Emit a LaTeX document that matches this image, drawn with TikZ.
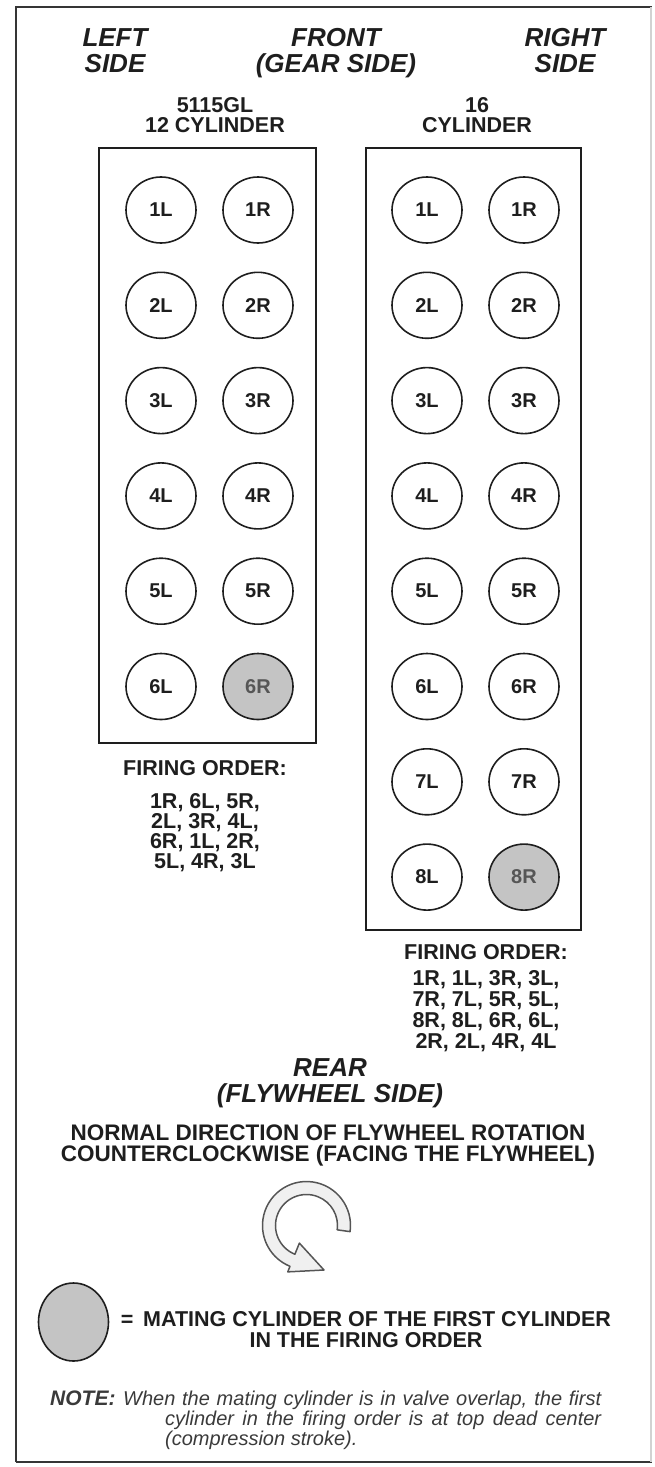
\documentclass[tikz,border=0pt]{standalone}
\usepackage{fontspec}
\setmainfont{Liberation Sans}
\usetikzlibrary{shapes.geometric,calc}
\definecolor{ink}{HTML}{1E1E1E}
\definecolor{mategray}{HTML}{C4C4C4}
\definecolor{notegray}{HTML}{3A3A3A}
\definecolor{arrowline}{HTML}{555555}
\definecolor{arrowfill}{HTML}{F0F0F0}
\tikzset{
  title/.style={font=\fontsize{26}{26}\selectfont\bfseries\itshape, anchor=base, inner sep=0pt, text=ink},
  body/.style={font=\fontsize{21.5}{20}\selectfont\bfseries, anchor=base, inner sep=0pt, text=ink},
  bodybig/.style={body, font=\fontsize{22.5}{20}\selectfont\bfseries},
  cyl/.style={ellipse, draw=ink, line width=1.6pt, minimum width=70pt, minimum height=66pt, inner sep=0pt, font=\fontsize{20}{20}\selectfont\bfseries, text=ink},
  mate/.style={cyl, fill=mategray, text=ink!75},
  blockbox/.style={draw=ink, line width=1.8pt},
  frameline/.style={draw=ink!90, line width=2.2pt},
  notebold/.style={font=\fontsize{21}{20}\selectfont\bfseries\itshape, text=notegray, inner sep=0pt, anchor=base west},
  notetext/.style={font=\fontsize{20}{20}\selectfont\itshape, text=notegray, inner sep=0pt, anchor=base west},
  rotarrow/.style={draw=arrowline, fill=arrowfill, line width=1.5pt, line join=round},
}
\begin{document}
\begin{tikzpicture}[x=1pt,y=-1pt]
\useasboundingbox (0,0) rectangle (655,1467);
% frame
\draw[frameline] (16,1462) -- (16,7) -- (652,7);
\draw[frameline] (16,1462) -- (652,1462);
\draw[draw=gray!35, line width=1.2pt] (651,7) -- (651,1462);
% titles
\node[title] (lt1) at (115,46) {LEFT};
\node[title] (lt2) at (115,72) {SIDE};
\node[title] (ft1) at (336,46) {FRONT};
\node[title] (ft2) at (336,72) {(GEAR SIDE)};
\node[title] (rt1) at (565,46) {RIGHT};
\node[title] (rt2) at (565,72) {SIDE};
% sub headings
\node[body] (h12a) at (215,112) {5115GL};
\node[body] (h12b) at (215,132) {12 CYLINDER};
\node[body] (h16a) at (477,112) {16};
\node[body] (h16b) at (477,132) {CYLINDER};
% boxes
\draw[blockbox] (99,148) rectangle (316,743);
\draw[blockbox] (366,148) rectangle (581,930);
% 12 cylinder
\foreach \i in {1,...,5}{
  \node[cyl] (a\i L) at (161,{210+95.3*(\i-1)}) {\i L};
  \node[cyl] (a\i R) at (258,{210+95.3*(\i-1)}) {\i R};
}
\node[cyl] (a6L) at (161,{210+95.3*5}) {6L};
\node[mate] (a6R) at (258,{210+95.3*5}) {6R};
% 16 cylinder
\foreach \i in {1,...,7}{
  \node[cyl] (b\i L) at (427,{210+95.3*(\i-1)}) {\i L};
  \node[cyl] (b\i R) at (524,{210+95.3*(\i-1)}) {\i R};
}
\node[cyl] (b8L) at (427,{210+95.3*7}) {8L};
\node[mate] (b8R) at (524,{210+95.3*7}) {8R};
% firing orders
\node[body] (fo12) at (205,775) {FIRING ORDER:};
\node[body] (fo12a) at (205,808) {1R, 6L, 5R,};
\node[body] (fo12b) at (205,828) {2L, 3R, 4L,};
\node[body] (fo12c) at (205,848) {6R, 1L, 2R,};
\node[body] (fo12d) at (205,868) {5L, 4R, 3L};
\node[body] (fo16) at (486,959) {FIRING ORDER:};
\node[body] (fo16a) at (486,985) {1R, 1L, 3R, 3L,};
\node[body] (fo16b) at (486,1006) {7R, 7L, 5R, 5L,};
\node[body] (fo16c) at (486,1027) {8R, 8L, 6R, 6L,};
\node[body] (fo16d) at (486,1048) {2R, 2L, 4R, 4L};
% rear
\node[title] (rear1) at (330,1076) {REAR};
\node[title] (rear2) at (330,1102) {(FLYWHEEL SIDE)};
\node[bodybig] (rot1) at (328,1140) {NORMAL DIRECTION OF FLYWHEEL ROTATION};
\node[bodybig] (rot2) at (328,1161) {COUNTERCLOCKWISE (FACING THE FLYWHEEL)};
% rotation arrow
\coordinate (C) at (306.5,1225.5);
\coordinate (tip) at (324,1270);
\draw[rotarrow] ($(C)+(8:44)$) arc[start angle=8, end angle=-248, radius=44]
  -- ($(C)+(112:50)$) -- (tip) -- ($(C)+(112:19)$) -- ($(C)+(112:31)$)
  arc[start angle=-248, end angle=8, radius=31] -- cycle;
% legend
\node[ellipse, draw=ink, line width=1.6pt, fill=mategray, minimum width=70pt, minimum height=78pt, inner sep=0pt] (legend) at (73.5,1322) {};
\node[body] (leg1) at (366,1326) {=\hspace{0.45em}MATING CYLINDER OF THE FIRST CYLINDER};
\node[body] (leg2) at (366,1347) {IN THE FIRING ORDER};
% note
\node[notebold] (noteh) at (50,1405) {NOTE:};
\node[notetext] (note1) at (123,1405) {\makebox[478pt][s]{When the mating cylinder is in valve overlap, the first}};
\node[notetext] (note2) at (165,1425) {\makebox[436pt][s]{cylinder in the firing order is at top dead center}};
\node[notetext] (note3) at (165,1445) {(compression stroke).};
\end{tikzpicture}
\end{document}
